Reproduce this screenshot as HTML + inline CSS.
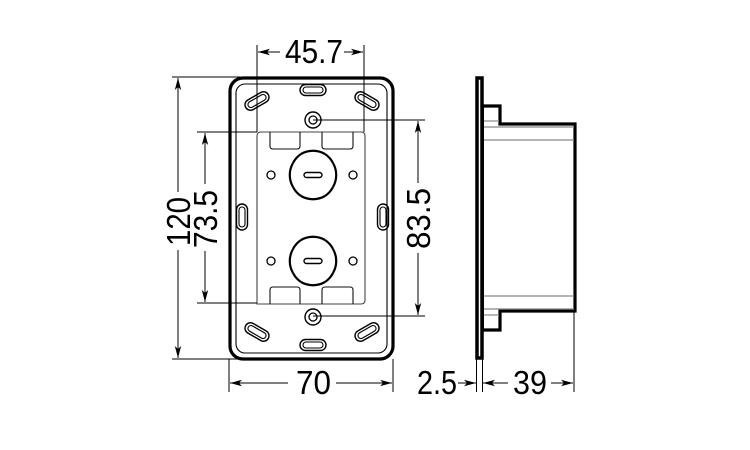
<!DOCTYPE html>
<html><head><meta charset="utf-8"><style>
html,body{margin:0;padding:0;background:#fff;}
svg{display:block;}
text{font-family:"Liberation Sans",sans-serif;font-size:33px;fill:#000;}
</style></head><body>
<svg width="750" height="450" viewBox="0 0 750 450" xmlns="http://www.w3.org/2000/svg">
<defs>
<marker id="a" markerWidth="12" markerHeight="8" refX="12" refY="4" orient="auto" markerUnits="userSpaceOnUse">
<path d="M0,0.8 L12,4 L0,7.2 L3,4 Z" fill="#000"/>
</marker>
<g id="slot"><rect x="-13" y="-5.5" width="26" height="11" rx="5.5" fill="none" stroke="#000" stroke-width="1.4"/><rect x="-10" y="-3" width="20" height="6" rx="3" fill="none" stroke="#000" stroke-width="1.1"/></g>
<g id="screw"><circle r="8" fill="none" stroke="#000" stroke-width="1.4"/><circle r="4" fill="none" stroke="#000" stroke-width="1.3"/></g>
<g id="knock"><path d="M-12,-21 A24,24 0 0 1 12,-21 M20,-12 A24,24 0 0 1 20,12 M12,21 A24,24 0 0 1 -12,21 M-20,12 A24,24 0 0 1 -20,-12" fill="none" stroke="#000" stroke-width="2.2"/><path d="M-20,-12 A24,24 0 0 1 -12,-21 M12,-21 A24,24 0 0 1 20,-12 M20,12 A24,24 0 0 1 12,21 M-12,21 A24,24 0 0 1 -20,12" fill="none" stroke="#000" stroke-width="2.2"/><rect x="-9" y="-2.5" width="18" height="5" rx="2.5" fill="none" stroke="#000" stroke-width="1.4"/></g>
</defs>
<g stroke="#000" fill="none">
<rect x="230" y="78" width="163" height="281" rx="13" stroke-width="3.2"/>
<rect x="236" y="84" width="151" height="269" rx="9" stroke-width="1.1"/>
<path d="M257,304 L257,136 Q257,132 261,132 L361,132 Q365,132 365,136 L365,300 Q365,304 361,304 Z" stroke="#444" stroke-width="1.1"/>
<path d="M270,132 V146 Q270,149 273,149 H297 Q300,149 300,146 V132 M322,132 V146 Q322,149 325,149 H350 Q353,149 353,146 V132" stroke="#111" stroke-width="1.1"/>
<path d="M270,304 V290 Q270,287 273,287 H297 Q300,287 300,290 V304 M322,304 V290 Q322,287 325,287 H350 Q353,287 353,290 V304" stroke="#111" stroke-width="1.1"/>
<circle cx="271" cy="175" r="4" stroke-width="1.3"/><circle cx="353" cy="175" r="4" stroke-width="1.3"/>
<circle cx="271" cy="261" r="4" stroke-width="1.3"/><circle cx="353" cy="261" r="4" stroke-width="1.3"/>
</g>
<use href="#knock" x="313" y="175"/>
<use href="#knock" x="313" y="261"/>
<use href="#screw" x="313" y="120"/>
<use href="#screw" x="313" y="317"/>
<use href="#slot" transform="translate(313,90)"/>
<use href="#slot" transform="translate(313,345)"/>
<use href="#slot" transform="translate(257,101) rotate(-30)"/>
<use href="#slot" transform="translate(367,101) rotate(30)"/>
<use href="#slot" transform="translate(257,332) rotate(30)"/>
<use href="#slot" transform="translate(367,332) rotate(-30)"/>
<use href="#slot" transform="translate(242,217) rotate(90)"/>
<use href="#slot" transform="translate(383,217) rotate(90)"/>

<g stroke="#000" fill="none">
<rect x="477" y="78" width="5" height="280" stroke-width="3.5"/>
<path d="M483,106 H500 V124 H575 V311 H500 V330 H483" stroke-width="3.2"/>
<line x1="483.5" y1="106" x2="483.5" y2="330" stroke-width="1"/>
<g stroke="#888" stroke-width="1.2">
<line x1="484" y1="121" x2="499" y2="121"/><line x1="484" y1="127" x2="574" y2="127"/><line x1="484" y1="140" x2="574" y2="140"/>
<line x1="484" y1="296" x2="574" y2="296"/><line x1="484" y1="309" x2="574" y2="309"/><line x1="484" y1="315" x2="499" y2="315"/>
</g>
</g>

<g stroke="#000" stroke-width="1" fill="none">
<line x1="257" y1="45" x2="257" y2="132"/><line x1="364" y1="45" x2="364" y2="132"/>
<line x1="280" y1="52" x2="258" y2="52" marker-end="url(#a)"/><line x1="344" y1="52" x2="363" y2="52" marker-end="url(#a)"/>
<line x1="172" y1="77" x2="240" y2="77"/><line x1="172" y1="359" x2="240" y2="359"/>
<line x1="178" y1="192" x2="178" y2="78" marker-end="url(#a)"/><line x1="178" y1="250" x2="178" y2="358" marker-end="url(#a)"/>
<line x1="197" y1="132" x2="257" y2="132"/><line x1="197" y1="303" x2="257" y2="303"/>
<line x1="205" y1="184" x2="205" y2="133" marker-end="url(#a)"/><line x1="205" y1="251" x2="205" y2="302" marker-end="url(#a)"/>
<line x1="313" y1="120" x2="425" y2="120"/><line x1="313" y1="316" x2="425" y2="316"/>
<line x1="418" y1="183" x2="418" y2="121" marker-end="url(#a)"/><line x1="418" y1="253" x2="418" y2="315" marker-end="url(#a)"/>
<line x1="229" y1="359" x2="229" y2="392"/><line x1="393" y1="359" x2="393" y2="392"/>
<line x1="288" y1="383" x2="230" y2="383" marker-end="url(#a)"/><line x1="336" y1="383" x2="392" y2="383" marker-end="url(#a)"/>
<line x1="476.5" y1="359" x2="476.5" y2="392"/><line x1="482.5" y1="359" x2="482.5" y2="392"/><line x1="574" y1="312" x2="574" y2="392"/>
<line x1="458" y1="383" x2="476" y2="383" marker-end="url(#a)"/>
<line x1="508" y1="383" x2="483" y2="383" marker-end="url(#a)"/>
<line x1="551" y1="383" x2="573" y2="383" marker-end="url(#a)"/>
</g>
<text x="285" y="63" textLength="58" lengthAdjust="spacingAndGlyphs">45.7</text>
<text x="296" y="394" textLength="35" lengthAdjust="spacingAndGlyphs">70</text>
<text x="417" y="394" textLength="40" lengthAdjust="spacingAndGlyphs">2.5</text>
<text x="513" y="394" textLength="34" lengthAdjust="spacingAndGlyphs">39</text>
<text transform="translate(190,246) rotate(-90)" textLength="49" lengthAdjust="spacingAndGlyphs">120</text>
<text transform="translate(217,248) rotate(-90)" textLength="58" lengthAdjust="spacingAndGlyphs">73.5</text>
<text transform="translate(430,249) rotate(-90)" textLength="61" lengthAdjust="spacingAndGlyphs">83.5</text>
</svg>
</body></html>
